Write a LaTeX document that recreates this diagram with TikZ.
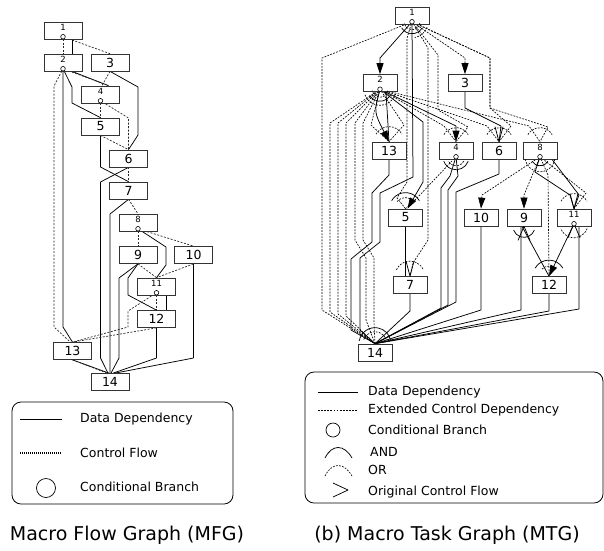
\documentclass[tikz,border=0pt]{standalone}
\usepackage{fontspec}
\setmainfont{DejaVu Sans}
\usetikzlibrary{arrows.meta,calc}
\pgfdeclarelayer{background}
\pgfsetlayers{background,main}
% small task number sitting in the upper part of a box
\newcommand\tinylab[1]{\fontsize{8.5}{8.5}\selectfont\raisebox{6.5pt}{#1}}
% arc around a point: style, point, start angle, end angle, radius
\newcommand\arcat[5]{\draw[#1] ($(#2)+(#3:#5)$) arc[start angle=#3,end angle=#4,radius=#5];}
% "original control flow" mark entering a box from above
\newcommand\vmark[1]{\draw[dep] ($(#1)+(-4,-15)$) -- (#1) -- ($(#1)+(4,-15)$);}
% the same mark leaving a box downwards
\newcommand\lmark[1]{\draw[dep] ($(#1)+(-6,14)$) -- (#1) -- ($(#1)+(6,14)$);}

\begin{document}
\begin{tikzpicture}[x=1pt,y=-1pt,
  box/.style={draw=black!80,fill=white,line width=0.7pt,minimum width=38pt,minimum height=17pt,
              inner sep=0pt,font=\fontsize{12.5}{12.5}\selectfont},
  tbox/.style={box,minimum width=34pt},
  cb/.style={circle,draw=black,fill=white,line width=0.6pt,inner sep=0pt,minimum size=4.6pt},
  dep/.style={line width=0.75pt,line join=round},
  cf/.style={line width=0.7pt,black!85,dash pattern=on 2pt off 1.5pt},
  ecd/.style={line width=0.65pt,dash pattern=on 1.8pt off 1.3pt},
  arr/.style={-{Triangle[length=11pt,width=7pt]}},
  legtext/.style={anchor=west,inner sep=0pt,font=\fontsize{12.5}{14}\selectfont},
  caption/.style={inner sep=0pt,font=\fontsize{19}{21}\selectfont}]
\useasboundingbox (0,0) rectangle (604,550);

% ---------------- Macro Flow Graph ----------------
\node[box] (m1)  at (63,30.5)   {\tinylab{1}};
\node[box] (m2)  at (63,62.5)   {\tinylab{2}};
\node[box] (m3)  at (110,62.5)  {3};
\node[box] (m4)  at (100.5,94.5) {\tinylab{4}};
\node[box] (m5)  at (100.5,126.5) {5};
\node[box] (m6)  at (128.5,158.5) {6};
\node[box] (m7)  at (128.5,190.5) {7};
\node[box] (m8)  at (138,222.5) {\tinylab{8}};
\node[box] (m9)  at (138,255)   {9};
\node[box] (m10) at (193.5,255) {10};
\node[box] (m11) at (156.5,286.5) {\tinylab{11}};
\node[box] (m12) at (156.5,319) {12};
\node[box] (m13) at (72.5,351)  {13};
\node[box] (m14) at (110,382)   {14};
\node[cb,yshift=2.6pt] (mc1)  at (m1.south)  {};
\node[cb,yshift=2.6pt] (mc2)  at (m2.south)  {};
\node[cb,yshift=2.6pt] (mc4)  at (m4.south)  {};
\node[cb,yshift=2.6pt] (mc8)  at (m8.south)  {};
\node[cb,yshift=2.6pt] (mc11) at (m11.south) {};

\begin{pgfonlayer}{background}
\draw[dep] ([xshift=9pt]m1.south) -- ([xshift=9pt]m2.north);
\draw[cf] (mc1) -- (m2.north);
\draw[cf] (mc1) -- (m3.north);
\draw[dep] ([xshift=9pt]m2.south) -- ([xshift=8pt]m4.north);
\draw[cf] (mc2) -- ([xshift=8pt]m4.north);
\draw[cf] (m3.south) -- ([xshift=1.5pt]m4.north);
\draw[dep] (m3.south) -- (138,87) -- (138,135) -- (m6.north);
\draw[dep] (mc2) -- (72,87) -- (72,103) -- (m5.north);
\draw[dep] (mc2) -- (63,327) -- (m13.north);
\draw[cf] (mc2) -- (54,86) -- (54,327) -- ([xshift=-2pt]m13.north);
\draw[cf] (mc4) -- (m5.north);
\draw[cf] (mc4) -- (128.5,118) -- (m6.north);
\draw[cf] (m5.south) -- (m6.north);
\draw[dep] (m5.south) -- (100.5,167) -- (m7.north);
\draw[dep] (m6.south) -- (100.5,182) -- (100.5,358) -- ([xshift=-2pt]m14.north);
\draw[cf] (m6.south) -- (m7.north);
\draw[cf] (m7.south) -- (m8.north);
\draw[dep] (m7.south) -- (110,214) -- (110,358) -- (m14.north);
\draw[cf] (mc8) -- (m9.north);
\draw[cf] (mc8) -- (m10.north);
\draw[dep] (mc8) -- (166,247) -- (166,265) -- (m11.north);
\draw[cf] (m9.south) -- (m11.north);
\draw[cf] (m10.south) -- (m11.north);
\draw[dep] (m9.south) -- (119,278) -- (119,358) -- ([xshift=1pt]m14.north);
\draw[dep] (m9.south) -- (128,278) -- (128,295) -- (m12.north);
\draw[cf] (mc11) -- (m12.north);
\draw[dep] ([xshift=9.5pt]m11.south) -- ([xshift=9.5pt]m12.north);
\draw[cf] (mc11) -- (128,311) -- (128,327) -- (m13.north);
\draw[cf] (m12.south) -- (m13.north);
\draw[dep] (m12.south) -- (156.5,358) -- ([xshift=3pt]m14.north);
\draw[dep] (m10.south) -- (193.5,358) -- ([xshift=5pt]m14.north);
\draw[dep] (m13.south) -- ([xshift=-1pt]m14.north);
\draw[cf] (m13.south) -- ([xshift=-3pt]m14.north);
\end{pgfonlayer}

% legend of the flow graph
\draw[line width=0.8pt,rounded corners=9pt] (12,402) rectangle (233,504);
\coordinate (fl1a) at (20,419);  \coordinate (fl1b) at (62,419);
\coordinate (fl2a) at (20,453);  \coordinate (fl2b) at (62,453);
\draw[dep] (fl1a) -- (fl1b);
\draw[line width=1.2pt,dash pattern=on 1pt off 1pt] (fl2a) -- (fl2b);
\node[circle,draw,line width=0.7pt,minimum size=19pt,inner sep=0pt] (flc) at (46,488) {};
\node[legtext] (flt1) at (80,419) {Data Dependency};
\node[legtext] (flt2) at (80,453) {Control Flow};
\node[legtext] (flt3) at (80,487) {Conditional Branch};
\node[caption] (mfgcap) at (127,535) {Macro Flow Graph (MFG)};

% ---------------- Macro Task Graph ----------------
\node[tbox] (t1)  at (412,15.5)  {\tinylab{1}};
\node[tbox] (t2)  at (380,83)    {\tinylab{2}};
\node[tbox] (t3)  at (465,83)    {3};
\node[tbox] (t13) at (389,150.5) {13};
\node[tbox] (t4)  at (456,150.5) {\tinylab{4}};
\node[tbox] (t6)  at (499,150.5) {6};
\node[tbox] (t8)  at (540,150.5) {\tinylab{8}};
\node[tbox] (t5)  at (405.5,217.5) {5};
\node[tbox] (t10) at (481,217.5) {10};
\node[tbox] (t9)  at (524,217.5) {9};
\node[tbox] (t11) at (574,217.5) {\tinylab{11}};
\node[tbox] (t7)  at (410,285)   {7};
\node[tbox] (t12) at (549,285)   {12};
\node[tbox] (t14) at (375,352.5) {14};
\node[cb,yshift=2.6pt] (tc1)  at (t1.south)  {};
\node[cb,yshift=2.6pt] (tc2)  at (t2.south)  {};
\node[cb,yshift=2.6pt] (tc4)  at (t4.south)  {};
\node[cb,yshift=2.6pt] (tc8)  at (t8.south)  {};
\node[cb,yshift=2.6pt] (tc11) at (t11.south) {};

\begin{pgfonlayer}{background}
% data dependencies
\draw[dep,arr] (tc1) -- (380,58) -- (t2.north);
\draw[dep] (tc1) -- (413,177) -- (380,193) -- (380,242) -- (360,258) -- (360,330) -- (t14.north);
\draw[dep] (t13.south) -- (389,175) -- (372,193) -- (372,242) -- (351,259) -- (351,330) -- (t14.north);
\draw[dep,arr] (tc2) .. controls (374,112) .. (t13.north);
\draw[dep] ([xshift=6pt]t2.south) -- (t13.north);
\draw[dep,arr] (tc2) -- (456,126) -- (t4.north);
\draw[dep,arr] (tc2) -- (423,122) -- (423,182) -- ([xshift=2pt]t5.north);
\draw[dep] (t3.south) -- (465,108) -- (501,126) -- (t6.north);
\draw[dep] (tc4) -- (450,176) -- (441,188) -- (441,308) -- (t14.north);
\draw[dep] (tc4) -- (458,176) -- (448,190) -- (448,305) -- (t14.north);
\draw[dep] (t6.south) -- (499,174) -- (456,192) -- (456,302) -- (t14.north);
\draw[dep] (t5.south) -- (t5.south |- t7.north);
\draw[dep] (t7.south) -- (410,311) -- (t14.north);
\draw[dep] (t10.south) -- (481,310) -- (t14.north);
\draw[dep] ([xshift=-3pt]t9.south) -- (521,310) -- (t14.north);
\draw[dep] ([xshift=-2pt]t9.south) -- (t12.north);
\draw[dep,arr] (tc11) -- (t12.north);
\draw[dep] (t12.south) -- (549,311) -- (t14.north);
\draw[dep] ([xshift=5pt]t11.south) -- (579,309) -- (t14.north);
\draw[dep] (tc8) -- (535,172) -- (570,195) -- (t11.north);
\draw[dep] ([xshift=12pt]t8.south) -- (579,195) -- (t11.north);
% extended control dependencies
\draw[ecd,arr] (tc1) -- (465,58) -- (t3.north);
\draw[ecd] (tc1) -- (490,58) -- (490,108) -- (548,127) -- (t8.north);
\draw[ecd] (tc1) -- (490,58) -- (490,108) -- (511,126) -- (t6.north);
\draw[ecd] (tc1) -- (322,58) -- (322,310) -- (t14.north);
\draw[ecd] (tc1) -- (407,38) -- (407,182) -- (397,198) -- (t5.north);
\draw[ecd] (tc1) -- (428,48) -- (428,240) -- (413,263) -- (t7.north);
\draw[ecd] (tc1) -- (438,55) -- (438,110) -- (468,127) -- (t4.north);
\draw[ecd] (tc2) -- (330,123) -- (330,312) -- (t14.north);
\draw[ecd] (tc2) -- (338,123) -- (338,314) -- (t14.north);
\draw[ecd] (tc2) -- (346,123) -- (346,316) -- (t14.north);
\draw[ecd] (tc2) -- (355,123) -- (355,240) -- (366,258) -- (366,320) -- (t14.north);
\draw[ecd] (tc2) -- (363,123) -- (363,240) -- (374,258) -- (374,322) -- (t14.north);
\draw[ecd] (tc2) -- (371,125) -- (t13.north);
\draw[ecd] (tc2) -- (404,125) -- (t13.north);
\draw[ecd] (tc2) -- (444,126) -- (t4.north);
\draw[ecd] (tc2) -- (487,126) -- (t6.north);
\draw[ecd] (tc2) -- (529,126) -- (t8.north);
\draw[ecd] (tc4) -- (433,181) -- (418,197) -- (t5.north);
\draw[ecd,arr] (tc8) -- (482,195) -- (t10.north);
\draw[ecd,arr] (tc8) -- (524,195) -- (t9.north);
\draw[ecd] (tc8) -- (548,175) -- (t12.north);
\draw[ecd] (tc8) -- (586,193) -- (t11.north);
\end{pgfonlayer}

% AND / OR arcs
\arcat{dep}{tc1}{30}{150}{12}
\arcat{ecd}{tc1}{10}{170}{8}
\arcat{ecd}{tc1}{20}{80}{16}
\arcat{dep}{tc2}{30}{150}{12}
\arcat{ecd}{tc2}{10}{170}{8}
\arcat{ecd}{tc2}{20}{160}{16}
\arcat{dep}{tc4}{20}{160}{13}
\arcat{ecd}{tc4}{30}{150}{9}
\arcat{ecd}{tc8}{10}{170}{15}
\arcat{dep}{tc8}{30}{150}{9}
\arcat{ecd}{tc11}{20}{160}{14}
\arcat{dep}{t9.south}{20}{160}{11}
\arcat{dep}{t12.north}{210}{330}{16}
\arcat{ecd}{t12.north}{225}{315}{10}
\arcat{dep}{t5.north}{210}{330}{16}
\arcat{ecd}{t5.north}{220}{320}{11}
\arcat{ecd}{t7.north}{205}{335}{15}
\arcat{ecd}{t13.north}{210}{330}{15}
\arcat{ecd}{t4.north}{210}{330}{14}
\arcat{ecd}{t6.north}{210}{330}{14}
\arcat{ecd}{t8.north}{210}{330}{14}
\arcat{ecd}{t11.north}{210}{330}{15}
\arcat{dep}{t14.north}{190}{350}{16}
\arcat{ecd}{t14.north}{200}{340}{12}
% original control flow marks
\vmark{t6.north}
\vmark{t7.north}
\vmark{t11.north}
\lmark{t9.south}
\lmark{tc11}

% legend of the task graph
\draw[line width=0.8pt,rounded corners=9pt] (305,372) rectangle (603,503);
\coordinate (tl1a) at (318,392); \coordinate (tl1b) at (358,392);
\coordinate (tl2a) at (318,410); \coordinate (tl2b) at (358,410);
\draw[dep] (tl1a) -- (tl1b);
\draw[ecd] (tl2a) -- (tl2b);
\node[circle,draw,line width=0.7pt,minimum size=14pt,inner sep=0pt] (tlc) at (333,430) {};
\coordinate (tland) at (325,458);
\draw[dep] (tland) .. controls (332,444) and (344,444) .. (352,458);
\coordinate (tlor) at (325,476);
\draw[ecd] (tlor) .. controls (332,462) and (344,462) .. (352,476);
\coordinate (tlocf) at (348,490);
\draw[dep] (333,483) -- (tlocf) -- (333,497);
\node[legtext] (tlt1) at (368,392) {Data Dependency};
\node[legtext] (tlt2) at (368,410) {Extended Control Dependency};
\node[legtext] (tlt3) at (368,430) {Conditional Branch};
\node[legtext] (tlt4) at (370,452) {AND};
\node[legtext] (tlt5) at (368,470) {OR};
\node[legtext] (tlt6) at (368,492) {Original Control Flow};
\node[caption] (mtgcap) at (447,535) {(b) Macro Task Graph (MTG)};
\end{tikzpicture}
\end{document}
